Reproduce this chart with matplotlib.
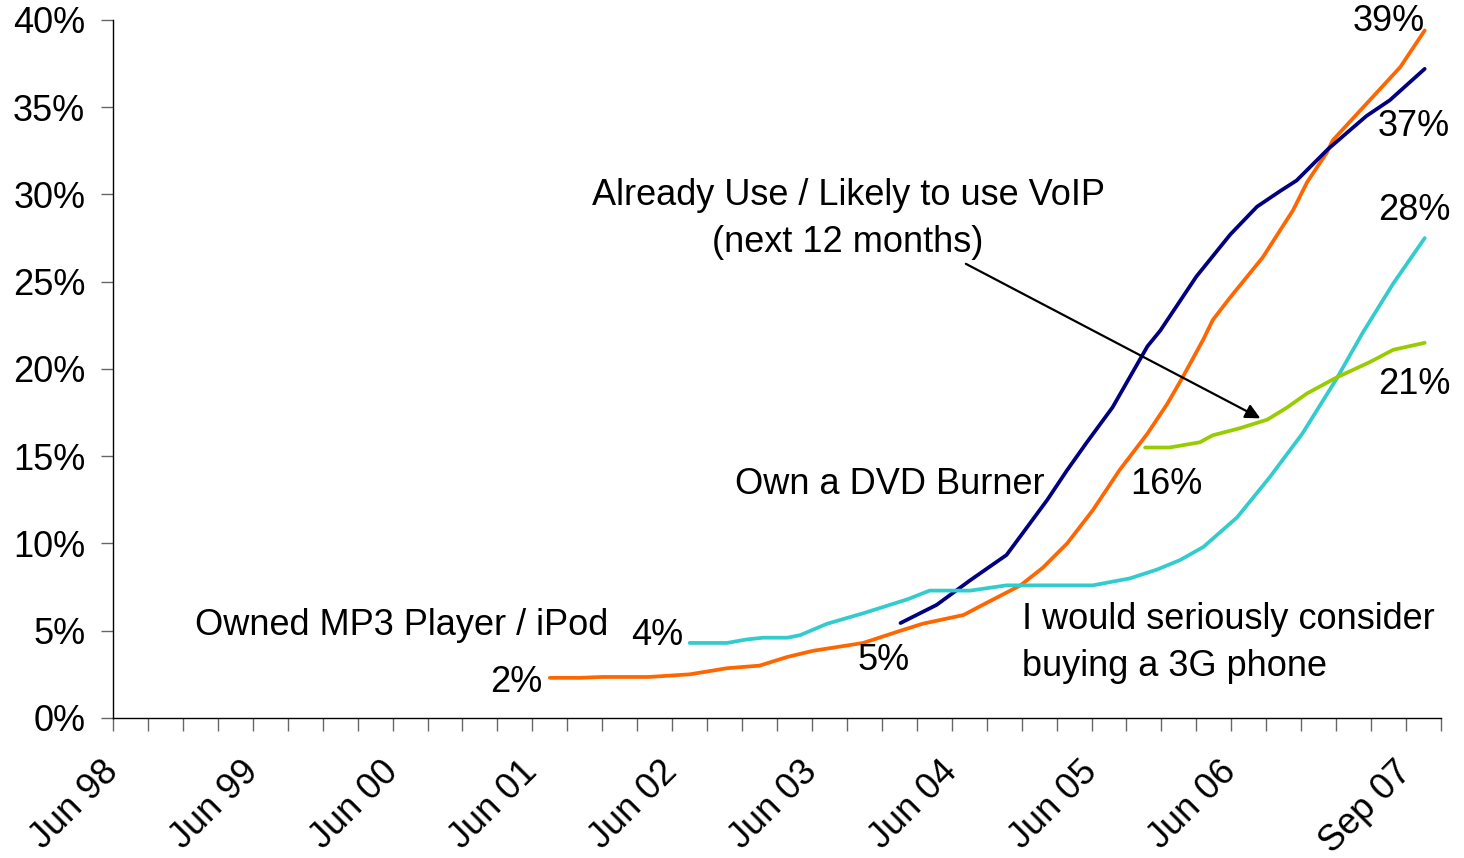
import matplotlib.pyplot as plt

plt.rcParams['font.family'] = ['Liberation Sans', 'DejaVu Sans']

# x positions are months counted from Jun 98
dvd_m = [37.5, 40, 42, 46, 49.5, 52.7, 55.5, 57.9, 60.1, 64.4, 67.6, 69.5, 73, 75, 77.9,
         79.8, 81.9, 84.1, 86.4, 88.8, 90.5, 91.8, 93.6, 94.4, 95.9, 98.7, 101.3, 102.5,
         104.2, 104.7, 107.6, 110.5, 112.6]
dvd_v = [2.3, 2.3, 2.35, 2.35, 2.5, 2.85, 3.0, 3.5, 3.85, 4.3, 5.0, 5.4, 5.9, 6.6, 7.6,
         8.6, 10.0, 11.9, 14.2, 16.3, 18.0, 19.5, 21.7, 22.8, 24.1, 26.4, 29.1, 30.7,
         32.4, 33.1, 35.2, 37.3, 39.4]

mp3_m = [67.6, 70.7, 73.6, 76.7, 78.1, 80.2, 81.9, 83.6, 85.8, 87.6, 88.8, 89.9, 93.0,
         95.9, 98.2, 100.2, 101.6, 104.3, 107.6, 109.6, 112.6]
mp3_v = [5.44, 6.48, 7.9, 9.34, 10.6, 12.5, 14.2, 15.8, 17.8, 19.9, 21.3, 22.2, 25.3,
         27.7, 29.3, 30.2, 30.8, 32.6, 34.5, 35.4, 37.2]

g3_m = [49.5, 52.7, 54.4, 55.8, 57.9, 59.0, 61.3, 64.4, 68.2, 70.1, 73.6, 76.7, 84.1,
        87.3, 89.6, 91.6, 93.6, 96.5, 99.3, 102.1, 105.0, 107.3, 109.9, 112.6]
g3_v = [4.3, 4.3, 4.5, 4.6, 4.6, 4.75, 5.4, 6.0, 6.8, 7.3, 7.3, 7.6, 7.6,
        8.0, 8.5, 9.05, 9.8, 11.5, 13.8, 16.3, 19.4, 22.1, 24.9, 27.5]

voip_m = [88.6, 90.7, 93.3, 94.4, 96.7, 99.1, 100.8, 102.5, 105.0, 107.9, 109.9, 112.6]
voip_v = [15.5, 15.5, 15.8, 16.2, 16.6, 17.1, 17.8, 18.6, 19.5, 20.4, 21.1, 21.5]

tick_m = list(range(0, 115, 3))
label_at = {0: 'Jun 98', 12: 'Jun 99', 24: 'Jun 00', 36: 'Jun 01', 48: 'Jun 02',
            60: 'Jun 03', 72: 'Jun 04', 84: 'Jun 05', 96: 'Jun 06', 111: 'Sep 07'}

fig = plt.figure(figsize=(14.64, 8.58), dpi=100)
ax = fig.add_axes([0.0772, 0.1632, 0.9071, 0.8135])

lw = 2.7
for xs, ys, c in [(dvd_m, dvd_v, '#FF6600'), (mp3_m, mp3_v, '#000080'),
                  (g3_m, g3_v, '#33CCCC'), (voip_m, voip_v, '#99CC00')]:
    ax.plot(xs, ys, color=c, lw=lw, solid_capstyle='round', solid_joinstyle='round')

fs = 26
ax.set_xlim(0, 114)
ax.set_ylim(0, 40)
ax.set_yticks(range(0, 41, 5))
ax.set_yticklabels([f'{v}%' for v in range(0, 41, 5)], fontsize=fs)
ax.set_xticks(tick_m)
ax.set_xticklabels([label_at.get(m, '') for m in tick_m], fontsize=fs,
                   rotation=45, ha='right', va='center', rotation_mode='anchor')
ax.tick_params(axis='both', length=9, width=1, color='#666666', direction='out')
ax.tick_params(axis='x', pad=26)
ax.tick_params(axis='y', pad=11)
for s in ['top', 'right']:
    ax.spines[s].set_visible(False)
for s in ['left', 'bottom']:
    ax.spines[s].set_linewidth(1)

ax.text(63.1, 28.6, 'Already Use / Likely to use VoIP\n(next 12 months)', fontsize=fs,
        ha='center', va='center', linespacing=1.45)
ax.annotate('', xy=(98.7, 17.1), xytext=(73.0, 26.1),
            arrowprops=dict(arrowstyle='-|>', color='black', lw=1.6, mutation_scale=22))
ax.text(53.4, 13.4, 'Own a DVD Burner', fontsize=fs, ha='left', va='center')
ax.text(87.3, 13.4, '16%', fontsize=fs, ha='left', va='center')
ax.text(108.6, 19.1, '21%', fontsize=fs, ha='left', va='center')
ax.text(108.6, 29.1, '28%', fontsize=fs, ha='left', va='center')
ax.text(108.6, 33.9, '37%', fontsize=fs, ha='left', va='center')
ax.text(106.4, 39.9, '39%', fontsize=fs, ha='left', va='center')
ax.text(7.0, 5.3, 'Owned MP3 Player / iPod', fontsize=fs, ha='left', va='center')
ax.text(44.5, 4.7, '4%', fontsize=fs, ha='left', va='center')
ax.text(32.4, 2.06, '2%', fontsize=fs, ha='left', va='center')
ax.text(63.9, 3.3, '5%', fontsize=fs, ha='left', va='center')
ax.text(78.0, 4.3, 'I would seriously consider\nbuying a 3G phone', fontsize=fs,
        ha='left', va='center', linespacing=1.45)

fig.savefig('out.png', dpi=100)
